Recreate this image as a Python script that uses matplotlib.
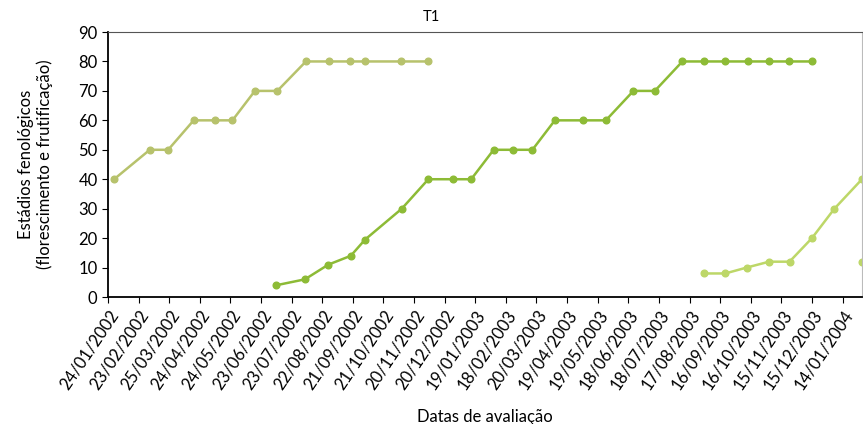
import matplotlib
matplotlib.use('Agg')
import matplotlib.pyplot as plt
import matplotlib.dates as mdates
import pandas as pd

plt.rcParams['font.family'] = ['Lato', 'DejaVu Sans']

# Fenological stages (dates dd/mm/yyyy)
dates_1 = ['30/01/2002', '06/03/2002', '24/03/2002', '18/04/2002', '09/05/2002',
           '26/05/2002', '17/06/2002', '09/07/2002', '06/08/2002', '29/08/2002',
           '18/09/2002', '03/10/2002', '07/11/2002', '04/12/2002']
values_1 = [40, 50, 50, 60, 60, 60, 70, 70, 80, 80, 80, 80, 80, 80]

dates_2 = ['08/07/2002', '05/08/2002', '28/08/2002', '19/09/2002', '03/10/2002',
           '08/11/2002', '04/12/2002', '28/12/2002', '15/01/2003', '06/02/2003',
           '25/02/2003', '16/03/2003', '07/04/2003', '05/05/2003', '27/05/2003',
           '23/06/2003', '14/07/2003', '10/08/2003', '31/08/2003', '21/09/2003',
           '13/10/2003', '03/11/2003', '22/11/2003', '15/12/2003']
values_2 = [4, 6, 11, 14, 19.5, 30, 40, 40, 40, 50, 50, 50, 60, 60, 60,
            70, 70, 80, 80, 80, 80, 80, 80, 80]

dates_3 = ['31/08/2003', '21/09/2003', '12/10/2003', '03/11/2003', '23/11/2003',
           '15/12/2003', '06/01/2004', '02/02/2004']
values_3 = [8, 8, 10, 12, 12, 20, 30, 40]

dates_4 = ['02/02/2004']
values_4 = [12]

tick_start = '24/01/2002'
tick_end = '14/01/2004'
x_end = '02/02/2004'


def to_dt(d):
    return pd.to_datetime(d, format='%d/%m/%Y')


fig = plt.figure(figsize=(8.63, 4.24), dpi=100)
ax = fig.add_axes([0.1251, 0.2995, 0.8737, 0.625])

c1 = '#b7c26c'
c2 = '#8dbb36'
c3 = '#bdd768'

ax.plot(to_dt(dates_1), values_1, color=c1, lw=1.8, marker='o', ms=4.8)
ax.plot(to_dt(dates_2), values_2, color=c2, lw=1.8, marker='o', ms=4.8)
ax.plot(to_dt(dates_3), values_3, color=c3, lw=1.8, marker='o', ms=4.8)
ax.plot(to_dt(dates_4), values_4, color=c3, lw=1.8, marker='o', ms=4.8)

ax.set_xlim(to_dt(tick_start), to_dt(x_end))
ax.set_ylim(0, 90)
ax.set_yticks(range(0, 91, 10))

ticks = pd.date_range(to_dt(tick_start), to_dt(tick_end), freq='30D')
ax.set_xticks(ticks)
ax.set_xticklabels([t.strftime('%d/%m/%Y') for t in ticks], rotation=56,
                   ha='right', rotation_mode='anchor', fontsize=12)
ax.tick_params(axis='y', labelsize=12, direction='out', length=4)
ax.tick_params(axis='x', direction='out', length=4)

ax.spines['left'].set_color('black')
ax.spines['bottom'].set_color('black')
ax.spines['left'].set_linewidth(1.3)
ax.spines['bottom'].set_linewidth(1.3)
ax.spines['top'].set_color('#555555')
ax.spines['right'].set_color('#bbbbbb')

# title is centred on the whole figure, not on the axes
fig.text(0.5, 0.96, 'T1', ha='center', va='center', fontsize=10.5)
ax.set_ylabel('Estádios fenológicos\n(florescimento e frutificação)', fontsize=12,
              labelpad=18)
ax.set_xlabel('Datas de avaliação', fontsize=12, labelpad=12)

fig.savefig('out.png', dpi=100)
